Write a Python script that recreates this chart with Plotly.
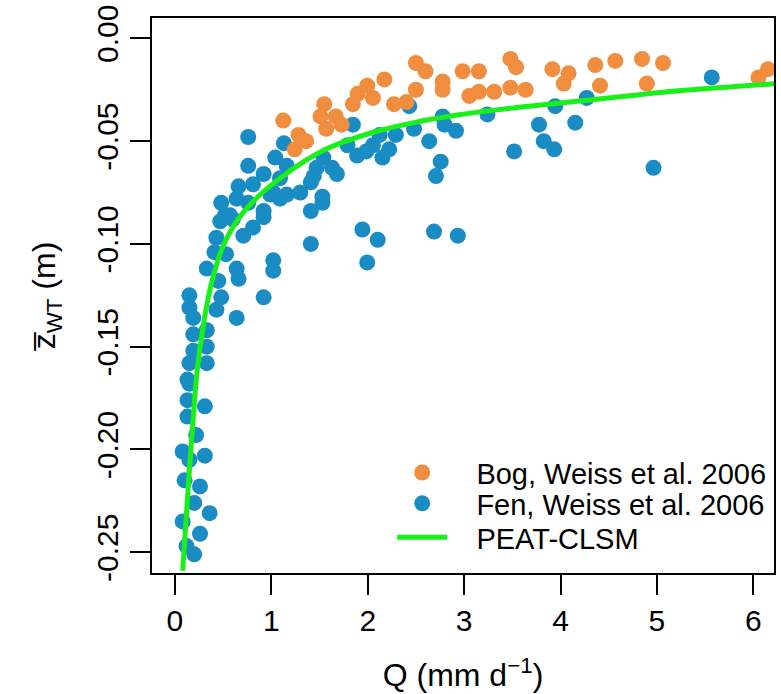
import plotly.graph_objects as go

# Bog (orange) – Weiss et al. 2006
bog_q = [1.124, 1.282, 1.361, 1.243, 1.549, 1.510, 1.668, 1.569, 1.728, 1.846,
         1.896, 1.995, 2.054, 2.173, 2.272, 2.401, 2.500, 2.599, 2.500, 2.777,
         2.777, 2.985, 3.153, 3.054, 3.153, 3.312, 3.480, 3.539, 3.480, 3.638,
         3.916, 4.084, 4.034, 4.361, 4.410, 4.569, 4.846, 4.896, 5.064, 6.054,
         6.153]
bog_z = [-0.040, -0.047, -0.050, -0.054, -0.032, -0.038, -0.038, -0.044, -0.042, -0.032,
         -0.027, -0.023, -0.029, -0.020, -0.032, -0.031, -0.012, -0.016, -0.025, -0.021,
         -0.025, -0.016, -0.016, -0.028, -0.026, -0.026, -0.010, -0.014, -0.024, -0.025,
         -0.015, -0.017, -0.022, -0.013, -0.023, -0.011, -0.010, -0.022, -0.012, -0.019,
         -0.015]

# Fen (blue) – Weiss et al. 2006
fen_q = [5.569, 4.965, 4.272, 4.153, 3.945, 3.777, 3.826, 3.935, 3.519, 3.242,
         2.777, 2.797, 2.916, 2.757, 2.708,
         0.76, 0.76, 0.92, 0.66, 0.48, 1.13, 1.04, 1.16, 1.09, 1.02,
         1.16, 1.30, 1.41, 1.47, 1.54, 1.63, 1.68, 1.53, 1.846, 1.79,
         1.89, 1.985, 2.054, 2.124, 2.153, 2.223, 2.292, 2.431, 2.480, 2.638,
         0.81, 0.64, 0.52, 0.76, 0.92, 0.99, 1.44, 1.41, 1.53, 0.60,
         0.57, 0.47, 0.43, 0.41, 0.33, 0.53, 0.64, 0.66, 0.45, 0.48,
         0.43, 0.64, 0.15, 0.15, 0.19, 0.19, 0.33, 0.33, 0.19, 0.15,
         0.33, 0.13, 0.81, 0.92, 0.71, 1.02, 1.02, 0.92, 1.41, 1.09,
         1.945, 2.104, 1.995, 2.688, 2.935,
         0.15, 0.13, 0.31, 0.13, 0.22, 0.08, 0.15, 0.31, 0.10, 0.26,
         0.20, 0.36, 0.08, 0.26, 0.12, 0.20]
fen_z = [-0.019, -0.063, -0.029, -0.041, -0.033, -0.042, -0.050, -0.054, -0.055, -0.037,
         -0.038, -0.042, -0.045, -0.060, -0.067,
         -0.048, -0.062, -0.066, -0.072, -0.080, -0.051, -0.058, -0.062, -0.068, -0.075,
         -0.076, -0.075, -0.070, -0.063, -0.058, -0.063, -0.066, -0.077, -0.042, -0.052,
         -0.057, -0.055, -0.052, -0.047, -0.058, -0.054, -0.047, -0.033, -0.044, -0.050,
         -0.071, -0.078, -0.086, -0.080, -0.084, -0.076, -0.067, -0.084, -0.080, -0.088,
         -0.086, -0.089, -0.097, -0.104, -0.112, -0.105, -0.112, -0.117, -0.118, -0.126,
         -0.132, -0.136, -0.125, -0.131, -0.136, -0.144, -0.142, -0.150, -0.152, -0.158,
         -0.158, -0.166, -0.092, -0.087, -0.096, -0.108, -0.113, -0.126, -0.100, -0.078,
         -0.093, -0.098, -0.109, -0.094, -0.096,
         -0.168, -0.176, -0.179, -0.184, -0.193, -0.201, -0.205, -0.203, -0.215, -0.218,
         -0.226, -0.231, -0.235, -0.241, -0.247, -0.251]

# PEAT-CLSM curve
clsm_q = [0.08, 0.15, 0.23, 0.30, 0.38, 0.50, 0.67, 0.85, 1.00, 1.27,
          1.58, 2.05, 2.48, 2.945, 3.569, 4.40, 5.222, 6.28]
clsm_z = [-0.259, -0.210, -0.162, -0.138, -0.119, -0.101, -0.087, -0.0775, -0.0714, -0.062,
          -0.0536, -0.0458, -0.0410, -0.0372, -0.0335, -0.0295, -0.0255, -0.0219]

x_ticks = [0, 1, 2, 3, 4, 5, 6]
y_ticks = [0.00, -0.05, -0.10, -0.15, -0.20, -0.25]
y_tick_text = ["0.00", "-0.05", "-0.10", "-0.15", "-0.20", "-0.25"]

ORANGE = "#F08D3E"
BLUE = "#1A8CC4"
GREEN = "#19F019"
FONT = "Liberation Sans, Arial, Helvetica, sans-serif"
NB = "\u00a0\u00a0\u00a0"

fig = go.Figure()
fig.add_trace(go.Scatter(x=fen_q, y=fen_z, mode="markers", name=NB + "Fen, Weiss et al. 2006",
                         marker=dict(color=BLUE, size=16, line=dict(width=0)), legend="legend2"))
fig.add_trace(go.Scatter(x=bog_q, y=bog_z, mode="markers", name=NB + "Bog, Weiss et al. 2006",
                         marker=dict(color=ORANGE, size=16, line=dict(width=0)), legend="legend"))
fig.add_trace(go.Scatter(x=clsm_q, y=clsm_z, mode="lines", name=NB + "PEAT-CLSM",
                         line=dict(color=GREEN, width=5, shape="spline", smoothing=0.8),
                         legend="legend3"))

leg_common = dict(xanchor="left", yanchor="top", bgcolor="rgba(0,0,0,0)",
                  itemwidth=50, font=dict(size=29))
LX = 0.3862
fig.update_layout(
    width=781, height=694,
    margin=dict(l=152, r=5, t=15, b=121),
    paper_bgcolor="white", plot_bgcolor="white",
    font=dict(family=FONT, size=29, color="black"),
    showlegend=True,
    legend=dict(x=LX, y=0.2267, **leg_common),
    legend2=dict(x=LX, y=0.1712, **leg_common),
    legend3=dict(x=LX, y=0.1102, **leg_common),
)
fig.update_xaxes(
    range=[-0.238, 6.215], tickvals=x_ticks, ticktext=[str(v) for v in x_ticks],
    showgrid=False, zeroline=False, showline=True, mirror=True,
    linecolor="black", linewidth=2, ticks="outside", ticklen=20, tickwidth=2,
    tickcolor="black", tickfont=dict(size=30),
    title=dict(text="Q (mm d<sup>\u22121</sup>)", font=dict(size=32), standoff=28),
)
fig.update_yaxes(
    range=[-0.2601, 0.0099], tickvals=y_ticks, ticktext=y_tick_text,
    showgrid=False, zeroline=False, showline=True, mirror=True,
    linecolor="black", linewidth=2, ticks="outside", ticklen=20, tickwidth=2,
    tickcolor="black", tickangle=-90, tickfont=dict(size=30),
    title=dict(text="z\u0305<sub>WT</sub> (m)", font=dict(size=32), standoff=26),
)

fig.write_html("out.html")
